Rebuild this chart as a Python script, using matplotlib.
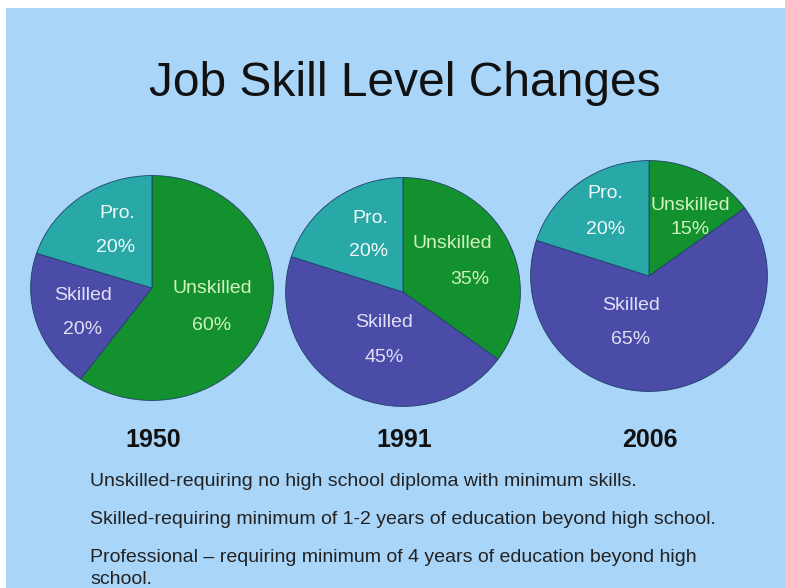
import matplotlib
matplotlib.use("Agg")
import matplotlib.pyplot as plt
from matplotlib.patches import Rectangle

# ---- data ----
years = ["1950", "1991", "2006"]
categories = ["Unskilled", "Skilled", "Pro."]
shares_1950 = [60, 20, 20]
shares_1991 = [35, 45, 20]
shares_2006 = [15, 65, 20]
notes = [
    "Unskilled-requiring no high school diploma with minimum skills.",
    "Skilled-requiring minimum of 1-2 years of education beyond high school.",
    "Professional \u2013 requiring minimum of 4 years of education beyond high\nschool.",
]

W, H = 785, 588
FONT = "Liberation Sans"
BG = "#a9d5f9"
COLORS = {"Unskilled": "#14912f", "Skilled": "#4b4ba8", "Pro.": "#28a9a8"}
TXT = {"Unskilled": "#d2f2bf", "Skilled": "#e2e0f6", "Pro.": "#f4f8fb"}

def fx(x):
    return x / W

def fy(y):
    return 1 - y / H

fig = plt.figure(figsize=(W / 100, H / 100), dpi=100)
fig.patch.set_facecolor("white")
fig.add_artist(Rectangle((fx(6), 0), 1 - fx(6), fy(8), transform=fig.transFigure,
                         facecolor=BG, edgecolor="none", zorder=0))

fig.text(fx(405), fy(84), "Job Skill Level Changes", ha="center", va="center",
         fontsize=34.5, family=FONT, color="#111111")

# pie geometry in pixels: centre x, centre y, radius x, radius y
geom = [(152, 288, 122, 113), (403, 292, 118, 115), (649, 276, 119, 116)]
all_shares = [shares_1950, shares_1991, shares_2006]

# label anchor positions (pixels) for each pie, per category: (name pos, pct pos)
label_pos = [
    {"Unskilled": ((212, 289), (212, 325)), "Skilled": ((83, 296), (83, 330)),
     "Pro.": ((117, 213), (116, 248))},
    {"Unskilled": ((452, 243), (470, 280)), "Skilled": ((384, 322), (384, 357)),
     "Pro.": ((370, 218), (369, 252))},
    {"Unskilled": ((690, 205), (690, 229)), "Skilled": ((631, 305), (631, 340)),
     "Pro.": ((605, 193), (606, 229))},
]

for (cx, cy, rx, ry), shares, yr, lp in zip(geom, all_shares, years, label_pos):
    ax = fig.add_axes([fx(cx - rx), fy(cy + ry), 2 * rx / W, 2 * ry / H])
    ax.pie(shares, colors=[COLORS[c] for c in categories], startangle=90,
           counterclock=False, radius=1,
           wedgeprops=dict(edgecolor="#20406a", linewidth=0.6))
    ax.set_aspect("auto")
    ax.set_xlim(-1.005, 1.005)
    ax.set_ylim(-1.005, 1.005)
    ax.axis("off")
    for c, v in zip(categories, shares):
        (nx, ny), (px, py) = lp[c]
        fig.text(fx(nx), fy(ny), c, ha="center", va="center", fontsize=14,
                 family=FONT, color=TXT[c])
        fig.text(fx(px), fy(py), f"{v}%", ha="center", va="center", fontsize=14,
                 family=FONT, color=TXT[c])
    fig.text(fx(cx + 1), fy(440), yr, ha="center", va="center", fontsize=18,
             family=FONT, weight="bold", color="#111111")

note_lines = []
for n in notes:
    note_lines.extend(n.split("\n"))
note_y = [481, 519, 557, 580]
for yy, line in zip(note_y, note_lines):
    fig.text(fx(90), fy(yy), line, ha="left", va="center", fontsize=14,
             family=FONT, color="#222222")

fig.savefig("out.png", dpi=100)
